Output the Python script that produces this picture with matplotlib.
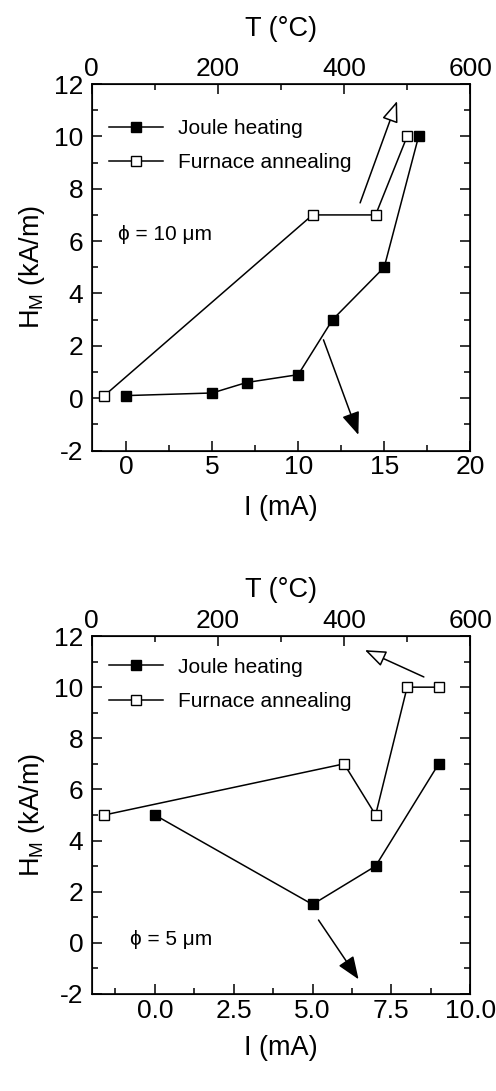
#!/usr/bin/env python3
"""Switching field H_M vs Joule heating current and furnace temperature."""

import matplotlib
matplotlib.use('Agg')
import matplotlib.pyplot as plt
from matplotlib.ticker import MultipleLocator

plt.rcParams['font.family'] = ['Liberation Sans', 'DejaVu Sans']
plt.rcParams['mathtext.fontset'] = 'custom'
plt.rcParams['mathtext.rm'] = 'Liberation Sans'
plt.rcParams['axes.unicode_minus'] = False

# panel (a): phi = 10 um
joule_i_10 = [0, 5, 7, 10, 12, 15, 17]
joule_h_10 = [0.1, 0.2, 0.6, 0.9, 3.0, 5.0, 10.0]
furn_t_10 = [20, 350, 450, 500]
furn_h_10 = [0.1, 7.0, 7.0, 10.0]

# panel (b): phi = 5 um
joule_i_5 = [0, 5, 7, 9]
joule_h_5 = [5.0, 1.5, 3.0, 7.0]
furn_t_5 = [20, 400, 450, 500, 550]
furn_h_5 = [5.0, 7.0, 5.0, 10.0, 10.0]

FIG_W, FIG_H = 4.96, 10.91
TICK_FS = 19
LABEL_FS = 19.5
TEXT_FS = 15


def style(ax, major, minor):
    """Inward ticks on every side."""
    ax.xaxis.set_major_locator(MultipleLocator(major))
    ax.xaxis.set_minor_locator(MultipleLocator(minor))
    ax.yaxis.set_major_locator(MultipleLocator(2))
    ax.yaxis.set_minor_locator(MultipleLocator(1))
    ax.tick_params(which='both', direction='in', right=True,
                   labelsize=TICK_FS, width=1.1)
    ax.tick_params(axis='y', pad=6)
    ax.tick_params(which='major', length=7)
    ax.tick_params(which='minor', length=4)
    for sp in ax.spines.values():
        sp.set_linewidth(1.2)


def panel(rect, cur, hj, temp, hf, xmax, major, minor, label, lab_xy,
          leg_y, open_arrow, full_arrow, top_pad, bot_pad):
    """Draw one panel."""
    ax = fig.add_axes(rect)
    ax2 = ax.twiny()
    lj, = ax.plot(cur, hj, '-s', color='black', mfc='black', ms=7.5,
                  lw=1.1, clip_on=False, zorder=3)
    lf, = ax2.plot(temp, hf, '-s', color='black', mfc='white', ms=7.5,
                   lw=1.1, mew=1.0, clip_on=False, zorder=3)
    ax.set_xlim(-2, xmax)
    ax.set_ylim(-2, 12)
    ax2.set_xlim(0, 600)
    style(ax, major, minor)
    ax2.xaxis.set_major_locator(MultipleLocator(200))
    ax2.xaxis.set_minor_locator(MultipleLocator(100))
    ax2.tick_params(which='both', direction='in', labelsize=TICK_FS,
                    width=1.1, pad=2)
    ax2.tick_params(which='major', length=7)
    ax2.tick_params(which='minor', length=4)
    ax.set_xlabel('I (mA)', fontsize=LABEL_FS, labelpad=bot_pad)
    ax.set_ylabel(r'H$_\mathrm{M}$ (kA/m)', fontsize=LABEL_FS, labelpad=5)
    ax2.set_xlabel('T (°C)', fontsize=LABEL_FS, labelpad=top_pad)
    ax.legend([lj, lf], ['Joule heating', 'Furnace annealing'],
              loc='upper left', bbox_to_anchor=(0.045, leg_y),
              frameon=False, fontsize=TEXT_FS, handlelength=2.6,
              handletextpad=0.7, labelspacing=0.75, borderpad=0,
              borderaxespad=0)
    ax.text(lab_xy[0], lab_xy[1], label, transform=ax.transAxes,
            fontsize=TEXT_FS, va='center', ha='left')
    ax.annotate('', xy=open_arrow[1], xytext=open_arrow[0],
                arrowprops=dict(arrowstyle='-|>,head_length=1.3,head_width=0.5',
                                fc='white', ec='black', lw=1.1,
                                shrinkA=0, shrinkB=0))
    ax.annotate('', xy=full_arrow[1], xytext=full_arrow[0],
                arrowprops=dict(arrowstyle='-|>,head_length=1.4,head_width=0.55',
                                fc='black', ec='black', lw=1.1,
                                shrinkA=0, shrinkB=0))
    return ax


fig = plt.figure(figsize=(FIG_W, FIG_H), dpi=100)

panel([0.185, 0.587, 0.763, 0.336], joule_i_10, joule_h_10, furn_t_10,
      furn_h_10, 20, 5, 2.5, 'ϕ = 10 μm', (0.07, 0.589), 0.905,
      ((13.6, 7.46), (15.75, 11.35)), ((11.47, 2.23), (13.5, -1.4)),
      15, 11)

panel([0.185, 0.089, 0.763, 0.328], joule_i_5, joule_h_5, furn_t_5,
      furn_h_5, 10, 2.5, 1.25, 'ϕ = 5 μm', (0.10, 0.151), 0.94,
      ((8.53, 10.4), (6.66, 11.45)), ((5.19, 0.89), (6.46, -1.43)),
      9, 9)

fig.savefig('out.png', dpi=100)
